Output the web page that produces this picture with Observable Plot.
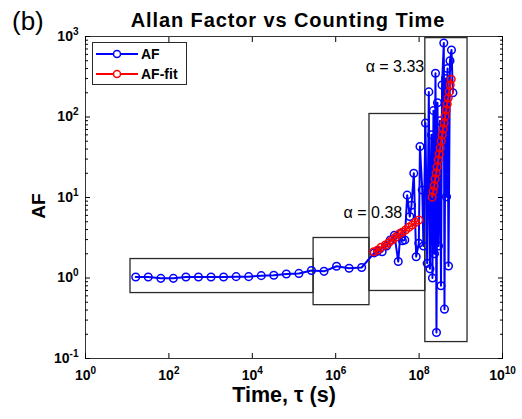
<!DOCTYPE html>
<html><head><meta charset="utf-8">
<script src="https://cdn.jsdelivr.net/npm/d3@7"></script>
<script src="https://cdn.jsdelivr.net/npm/@observablehq/plot@0.6"></script>
<style>
body{margin:0;background:#fff;}
#wrap{position:relative;width:522px;height:419px;}
#wrap svg g[aria-label$="tick label"] text{font-size:14px;font-weight:bold;fill:#000;}
#wrap svg g[aria-label$="tick label"] tspan.sup{font-size:10px;}
</style></head><body>
<div id="wrap"></div>
<script>
// ---- data ----
const afTau = [16,32,64,128,256,512,1024,2048,4096,8192,16384,32768,65536,131072,262144,524288,1048576,2097152,4194304,8388608,
  1.0e7,1.3e7,1.66e7,2.04e7,2.57e7,3.16e7,3.56e7,3.98e7,4.54e7,5.18e7,
  5.98e7,6.58e7,7.47e7,8.51e7,9.84e7,1.05e8,1.19e8,1.27e8,1.42e8,1.56e8,
  1.71e8,1.82e8,1.98e8,2.09e8,2.21e8,2.34e8,2.47e8,2.61e8,2.76e8,2.92e8,
  3.17e8,3.35e8,3.55e8,3.91e8,4.06e8,4.30e8,4.54e8,4.80e8,5.07e8,5.50e8,
  5.98e8,6.46e8];
const afVal = [1.03,1.03,0.99,0.99,1.03,1.03,1.03,1.03,1.04,1.04,1.07,1.08,1.12,1.14,1.24,1.21,1.40,1.32,1.35,2.05,
  2.15,2.12,2.5,2.96,3.4,1.6,3.6,2.9,2.96,10.7,
  5.8,8,20,1.84,2.7,43,12.4,2.5,84,1.52,
  205,1.3,60,1.0,120,2.0,350,0.21,150,2.5,
  90,0.8,250,830,0.41,300,10.2,400,1.41,500,
  680,200];
const fit1Tau = [8.20e6,1.02e7,1.23e7,1.56e7,1.87e7,2.26e7,2.72e7,3.26e7,3.94e7,4.72e7,5.66e7,6.84e7,8.20e7,9.84e7];
const fit1Val = [2.12,2.23,2.41,2.57,2.74,2.96,3.20,3.49,3.70,3.95,4.26,4.55,4.92,5.25];
const fit2Tau = [2.06e8,2.18e8,2.30e8,2.43e8,2.57e8,2.72e8,2.87e8,3.03e8,3.21e8,3.39e8,3.58e8,3.78e8,4.00e8,4.23e8,4.47e8,4.72e8,4.99e8,5.27e8,5.57e8,5.89e8];
const fit2Val = [10.1,12.0,13.9,17.0,20.1,23.9,29.2,34.7,41.2,50.3,59.7,71.0,84.2,103,122,145,172,205,250,294];
const boxX1 = [12, 2.95e5, 6.46e6, 1.41e8];
const boxX2 = [2.95e5, 6.46e6, 1.41e8, 1.45e9];
const boxY1 = [0.65, 0.46, 0.69, 0.16];
const boxY2 = [1.72, 3.14, 109, 955];
const annText = ["α = 0.38", "α = 3.33"];
const annX = [3.94e7, 1.33e8];
const annY = [6.42, 418];
const xTicks = [1, 1e2, 1e4, 1e6, 1e8, 1e10];
const xTickLabels = ["10^0","10^2","10^4","10^6","10^8","10^10"];
const yTicks = [0.1, 1, 10, 100, 1000];
const yTickLabels = ["10^-1","10^0","10^1","10^2","10^3"];
const yMinor = [0.2,0.3,0.4,0.5,0.6,0.7,0.8,0.9,2,3,4,5,6,7,8,9,20,30,40,50,60,70,80,90,200,300,400,500,600,700,800,900];
const seriesNames = ["AF", "AF-fit"];
const seriesColors = ["#0000ff", "#ff0000"];
const titleText = "Allan Factor vs Counting Time";
const xLabel = "Time, τ (s)";
const yLabel = "AF";
const panelLabel = "(b)";

// ---- build ----
const afData = afTau.map((t, i) => ({tau: t, af: afVal[i]}));
const fitData = [
  ...fit1Tau.map((t, i) => ({tau: t, af: fit1Val[i], seg: 1})),
  ...fit2Tau.map((t, i) => ({tau: t, af: fit2Val[i], seg: 2}))
];
const boxes = boxX1.map((x, i) => ({x1: x, x2: boxX2[i], y1: boxY1[i], y2: boxY2[i]}));
const anns = annText.map((t, i) => ({text: t, x: annX[i], y: annY[i]}));
const FONT = "'Liberation Sans', Arial, Helvetica, sans-serif";
const blank = () => "";

const chart = Plot.plot({
  width: 522, height: 419,
  marginLeft: 85, marginRight: 20, marginTop: 36, marginBottom: 61,
  x: {type: "log", domain: [1, 1e10]},
  y: {type: "log", domain: [0.1, 1000]},
  style: {fontFamily: FONT, fontSize: "14px", fontWeight: "bold", color: "#000", background: "#fff", overflow: "visible"},
  marks: [
    Plot.rect(boxes, {x1: "x1", x2: "x2", y1: "y1", y2: "y2", fill: "none", stroke: "#2a2a2a", strokeWidth: 1.3}),
    Plot.line(afData, {x: "tau", y: "af", stroke: seriesColors[0], strokeWidth: 2}),
    Plot.dot(afData, {x: "tau", y: "af", r: 3.8, stroke: seriesColors[0], strokeWidth: 1.5, fill: "none"}),
    Plot.line(fitData, {x: "tau", y: "af", z: "seg", stroke: seriesColors[1], strokeWidth: 2}),
    Plot.dot(fitData, {x: "tau", y: "af", r: 3.8, stroke: seriesColors[1], strokeWidth: 1.5, fill: "none"}),
    Plot.text(anns, {x: "x", y: "y", text: "text", textAnchor: "end", lineAnchor: "middle", fontSize: 16, fontWeight: "normal", fill: "#000"}),
    Plot.frame({stroke: "#333"}),
    Plot.axisX({anchor: "bottom", ticks: xTicks, tickSize: -5, tickPadding: 17, tickFormat: d => xTickLabels[xTicks.indexOf(d)]}),
    Plot.axisX({anchor: "top", ticks: xTicks, tickSize: -5, tickFormat: blank}),
    Plot.axisY({anchor: "left", ticks: yTicks, tickSize: -5, tickPadding: 12, tickFormat: d => yTickLabels[yTicks.indexOf(d)]}),
    Plot.axisY({anchor: "right", ticks: yTicks, tickSize: -5, tickFormat: blank}),
    Plot.axisY({anchor: "left", ticks: yMinor, tickSize: -3, tickFormat: blank}),
    Plot.axisY({anchor: "right", ticks: yMinor, tickSize: -3, tickFormat: blank})
  ]
});
document.getElementById("wrap").appendChild(chart);

const svg = d3.select(chart);
// tick labels: superscript exponents
svg.selectAll('g[aria-label$="tick label"] text').each(function () {
  const m = (this.textContent || "").match(/^(\d+)\^(.+)$/);
  if (!m) return;
  const t = d3.select(this);
  t.text(null);
  t.append("tspan").attr("class", "base").text(m[1]);
  t.append("tspan").attr("class", "sup").attr("dy", "-6").text(m[2]);
});

const g = svg.append("g").attr("font-family", FONT).attr("fill", "#000");
g.append("text").attr("x", 288).attr("y", 27).attr("text-anchor", "middle")
  .attr("font-size", 20).attr("font-weight", "bold").attr("letter-spacing", "0.9px").text(titleText);
g.append("text").attr("x", 12).attr("y", 30).attr("text-anchor", "start")
  .attr("font-size", 26).attr("font-weight", "normal").text(panelLabel);
g.append("text").attr("x", 284).attr("y", 402).attr("text-anchor", "middle")
  .attr("font-size", 21.5).attr("font-weight", "bold").text(xLabel);
g.append("text").attr("transform", "translate(45,206) rotate(-90)").attr("text-anchor", "middle")
  .attr("font-size", 19).attr("font-weight", "bold").text(yLabel);

// legend
const lg = svg.append("g").attr("font-family", FONT);
lg.append("rect").attr("x", 92.5).attr("y", 42.5).attr("width", 94).attr("height", 42)
  .attr("fill", "#fff").attr("stroke", "#2a2a2a").attr("stroke-width", 1);
seriesNames.forEach((name, i) => {
  const yy = 54 + i * 20;
  lg.append("line").attr("x1", 96).attr("x2", 138).attr("y1", yy).attr("y2", yy)
    .attr("stroke", seriesColors[i]).attr("stroke-width", 2);
  lg.append("circle").attr("cx", 117).attr("cy", yy).attr("r", 3.5)
    .attr("fill", "#fff").attr("stroke", seriesColors[i]).attr("stroke-width", 1.5);
  lg.append("text").attr("x", 141).attr("y", yy + 5).attr("text-anchor", "start")
    .attr("font-size", 14).attr("font-weight", "bold").attr("fill", "#000").text(name);
});
</script>
</body></html>
